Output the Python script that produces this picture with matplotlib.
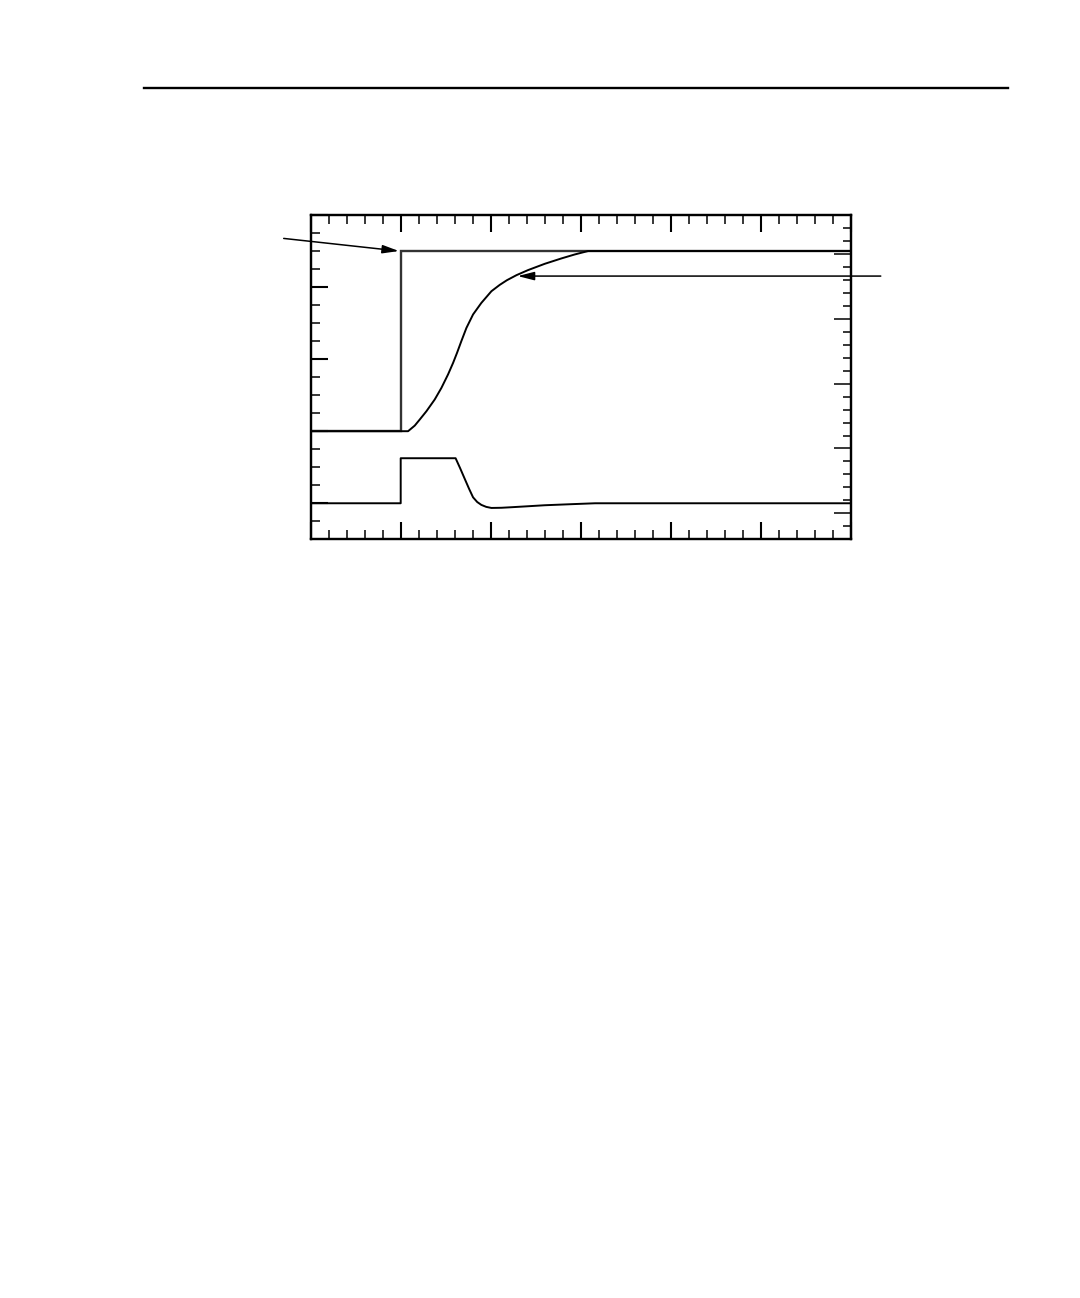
import matplotlib
matplotlib.use("Agg")
import matplotlib.pyplot as plt

# ── data (axis units = minor tick intervals) ─────────────────────────────────
step_x = [0, 5, 5, 30]
step_y = [6, 6, 16, 16]

resp_x = [0, 5.0, 5.41, 5.78, 6.06, 6.43, 6.89, 7.26, 7.63, 7.91, 8.13, 8.37,
          8.65, 9.02, 9.48, 10.04, 10.5, 10.9, 11.43, 12.07, 13.0, 13.93,
          14.67, 15.41, 30]
resp_y = [6, 6.0, 6.0, 6.31, 6.65, 7.11, 7.76, 8.40, 9.15, 9.79, 10.35, 11.0,
          11.73, 12.48, 13.12, 13.77, 14.12, 14.38, 14.66, 14.94, 15.29, 15.59,
          15.81, 16.0, 16.0]

low_x = [0, 5, 5, 8.05, 8.3, 8.56, 8.8, 9.02, 9.25, 9.48, 9.75, 10.04, 10.6,
         11.15, 12.0, 13.0, 14.5, 15.8, 30]
low_y = [2.0, 2.0, 4.5, 4.5, 3.95, 3.35, 2.8, 2.33, 2.07, 1.91, 1.80, 1.74,
         1.75, 1.78, 1.83, 1.89, 1.95, 2.0, 2.0]

# tick layout
x_major = [0, 5, 10, 15, 20, 25, 30]
x_minor = list(range(0, 31))
yl_major = [2, 6, 10, 14, 18]
yl_minor = list(range(0, 19))
yr_major = [2, 7, 12, 17, 22]
yr_minor = list(range(0, 26))

fig = plt.figure(figsize=(10.8, 12.98), dpi=100)
fig.patch.set_facecolor("white")

# rule at the top of the page
fig.add_artist(plt.Line2D([144 / 1080, 1008 / 1080], [1 - 88 / 1298, 1 - 88 / 1298],
                          color="black", lw=1.7, transform=fig.transFigure))

ax = fig.add_axes([310.7 / 1080, 1 - 539.3 / 1298, 540 / 1080, 324.3 / 1298])
ax.set_xlim(0, 30)
ax.set_ylim(0, 18)

ax.plot(step_x, step_y, color="#333333", lw=1.7, solid_joinstyle="miter")
ax.plot(resp_x, resp_y, color="black", lw=1.4, solid_joinstyle="round")
ax.plot(low_x, low_y, color="black", lw=1.4, solid_joinstyle="round")

for s in ax.spines.values():
    s.set_linewidth(1.6)

ax.set_xticks(x_major)
ax.set_xticks(x_minor, minor=True)
ax.set_yticks(yl_major)
ax.set_yticks(yl_minor, minor=True)
ax.tick_params(which="both", direction="in", top=True, bottom=True,
               left=True, right=False, labelbottom=False, labelleft=False)
ax.tick_params(which="major", length=12.5, width=1.5)
ax.tick_params(which="minor", length=6.2, width=1.1)

ax2 = ax.twinx()
ax2.set_ylim(0, 25)
ax2.set_yticks(yr_major)
ax2.set_yticks(yr_minor, minor=True)
ax2.tick_params(which="both", direction="in", left=False, right=True,
                labelright=False)
ax2.tick_params(which="major", length=12.5, width=1.1)
ax2.tick_params(which="minor", length=6.0, width=1.1)
for s in ax2.spines.values():
    s.set_linewidth(1.6)

# arrows pointing at the curves
arrow_kw = dict(arrowstyle="-|>,head_length=0.55,head_width=0.14", color="black",
                lw=1.1, mutation_scale=18, shrinkA=0, shrinkB=0)
ax.annotate("", xy=(4.9, 16.0), xytext=(-1.5, 16.7),
            arrowprops=arrow_kw, annotation_clip=False)
ax.annotate("", xy=(11.5, 14.61), xytext=(31.67, 14.61),
            arrowprops=arrow_kw, annotation_clip=False)

fig.savefig("out.png", dpi=100, facecolor="white")
